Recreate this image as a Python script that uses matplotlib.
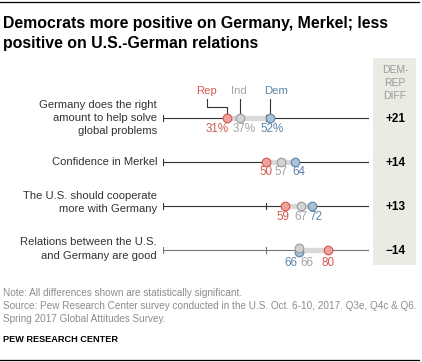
import matplotlib
matplotlib.use('Agg')
import matplotlib.pyplot as plt

plt.rcParams['font.family'] = ['Liberation Sans', 'DejaVu Sans']

# ---------------- data ----------------
categories = [
    "Germany does the right\namount to help solve\nglobal problems",
    "Confidence in Merkel",
    "The U.S. should cooperate\nmore with Germany",
    "Relations between the U.S.\nand Germany are good",
]
rep = [31, 50, 59, 80]
ind = [37, 57, 67, 66]
dem = [52, 64, 72, 66]
diff_labels = ["+21", "+14", "+13", "\u221214"]
series_names = ["Rep", "Ind", "Dem"]

title_lines = ["Democrats more positive on Germany, Merkel; less",
               "positive on U.S.-German relations"]
note_lines = [
    "Note: All differences shown are statistically significant.",
    "Source: Pew Research Center survey conducted in the U.S. Oct. 6-10, 2017. Q3e, Q4c & Q6.",
    "Spring 2017 Global Attitudes Survey.",
]
credit = "PEW RESEARCH CENTER"
diff_header = "DEM-\nREP\nDIFF"

# ---------------- style / layout ----------------
W, H = 422, 362
X0, X1 = 163.3, 369.3
ROW_Y = [117.7, 161.7, 206.0, 250.0]
LABEL_Y = [117.7, 161.7, 202.7, 249.0]
LINE_COL = ["#333333", "#333333", "#333333", "#777777"]
DOT_DY = [{"Rep": 0, "Ind": 0, "Dem": 0}, {"Rep": 0, "Ind": 0, "Dem": 0},
          {"Rep": 0, "Ind": 0, "Dem": 0}, {"Rep": 0, "Ind": -2.2, "Dem": 2.2}]
LAB_DX = [{"Rep": -10, "Ind": 5, "Dem": 2}, {"Rep": 0, "Ind": 0, "Dem": 4},
          {"Rep": -2, "Ind": 0, "Dem": 4}, {"Rep": 0, "Ind": 8, "Dem": -8}]
LAB_DY = [-11.5, -10.5, -10.7, -12.5]
TXT = {"Rep": "#d65a50", "Ind": "#a3a3a3", "Dem": "#5e84a8"}
FILL = {"Rep": "#eda39c", "Ind": "#d3d3d3", "Dem": "#a9c0d6"}
EDGE = {"Rep": "#d9534f", "Ind": "#9a9a9a", "Dem": "#5e84a8"}

fig = plt.figure(figsize=(W / 100, H / 100), dpi=100)
bg = fig.add_axes([0, 0, 1, 1])
bg.set_xlim(0, W)
bg.set_ylim(H, 0)
bg.axis('off')

# top / bottom rules
bg.plot([0, 419], [1.7, 1.7], color='black', lw=0.9)
bg.plot([0, 419], [359.5, 359.5], color='black', lw=0.9)

# title
for k, t in enumerate(title_lines):
    bg.text(3, 28.3 + k * 19.7, t, fontsize=11.4, fontweight='bold',
            va='baseline', ha='left', color='black')

# diff column
bg.add_patch(plt.Rectangle((373, 58), 43, 207, facecolor='#ebebe4',
                           edgecolor='none', zorder=0))
bg.text(395, 83.3, diff_header, ha='center', va='center', fontsize=7.5,
        color='#9a9a9a', linespacing=1.38, multialignment='center')
for i, d in enumerate(diff_labels):
    bg.text(396, ROW_Y[i] + 1, d, ha='center', va='center', fontsize=8.5,
            fontweight='bold', color='black')

# row labels
for i, c in enumerate(categories):
    bg.text(157, LABEL_Y[i], c, ha='right', va='center', fontsize=8.1,
            color='#333333', linespacing=1.38, multialignment='right')

# notes
for k, t in enumerate(note_lines):
    bg.text(3, 296.5 + k * 12.8, t, fontsize=7.2, color='#8c8c8c',
            va='baseline', ha='left')
bg.text(3, 341.7, credit, fontsize=6.6, fontweight='bold', color='black',
        va='baseline', ha='left')

# data axes
ax = fig.add_axes([X0 / W, 0, (X1 - X0) / W, 1])
ax.set_xlim(0, 100)
ax.set_ylim(H, 0)
ax.axis('off')
PX = 100 / (X1 - X0)

vals = {"Rep": rep, "Ind": ind, "Dem": dem}
for i in range(len(categories)):
    y = ROW_Y[i]
    lc = LINE_COL[i]
    ax.plot([0, 100], [y, y], color=lc, lw=0.8, solid_capstyle='butt', zorder=1)
    for t in (0, 50, 100):
        ax.plot([t, t], [y - 3, y + 3], color=lc, lw=0.8, zorder=1)
    lo = min(rep[i], ind[i], dem[i])
    hi = max(rep[i], ind[i], dem[i])
    ax.plot([lo, hi], [y, y], color='#d9d9d9', lw=3.8,
            solid_capstyle='butt', zorder=2)
    for s in ["Rep", "Dem", "Ind"]:
        v = vals[s][i]
        ax.plot([v], [y + DOT_DY[i][s]], 'o', ms=6.2, mfc=FILL[s], mec=EDGE[s],
                mew=0.8, zorder=3)
    for s in series_names:
        v = vals[s][i]
        txt = f"{v}%" if i == 0 else f"{v}"
        ax.annotate(txt, (v, y), xytext=(LAB_DX[i][s], LAB_DY[i]),
                    textcoords='offset pixels', ha='center', va='center',
                    fontsize=8.4, color=TXT[s])

# legend labels with leader lines (first row)
y0 = ROW_Y[0]
leg_dx = {"Rep": -20.5, "Ind": -1, "Dem": 6}
for s in series_names:
    v = vals[s][0]
    ax.text(v + leg_dx[s] * PX, 91.5, s, ha='center', va='center',
            fontsize=8.2, color=TXT[s])
r = vals["Rep"][0]
ax.plot([r + leg_dx["Rep"] * PX, r + leg_dx["Rep"] * PX, r, r],
        [99.0, 106.7, 106.7, y0 - 3.5], color='#333333', lw=0.8, zorder=2)
for s in ["Ind", "Dem"]:
    v = vals[s][0]
    ax.plot([v, v], [99.0, y0 - 3.5], color='#333333', lw=0.8, zorder=2)

fig.savefig('out.png', dpi=100)
